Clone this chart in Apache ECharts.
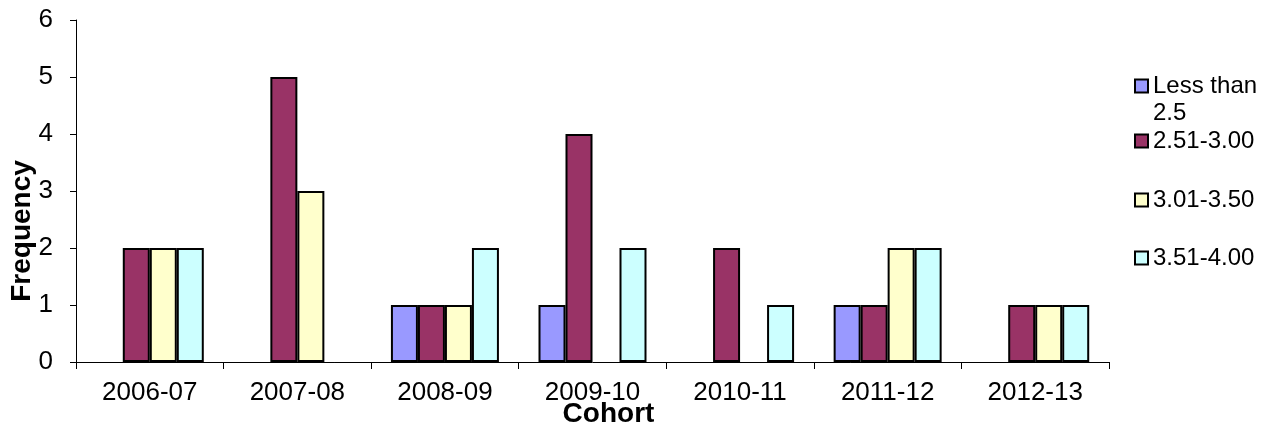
<!DOCTYPE html>
<html>
<head>
<meta charset="utf-8">
<script src="https://cdn.jsdelivr.net/npm/echarts@6/dist/echarts.min.js"></script>
<style>
  html, body { margin: 0; padding: 0; background: #fff; }
  #chart { width: 1276px; height: 431px; }
</style>
</head>
<body>
<div id="chart"></div>
<script>
var cohorts = ['2006-07', '2007-08', '2008-09', '2009-10', '2010-11', '2011-12', '2012-13']
var seriesNames = ['Less than 2.5', '2.51-3.00', '3.01-3.50', '3.51-4.00']
var lessThan25 = [0, 0, 1, 1, 0, 1, 0]
var gpa251to300 = [2, 5, 1, 4, 2, 1, 1]
var gpa301to350 = [2, 3, 1, 0, 0, 2, 1]
var gpa351to400 = [2, 0, 2, 2, 1, 2, 1]
var colors = ['#9999FF', '#993366', '#FFFFCC', '#CCFFFF']

var values = [lessThan25, gpa251to300, gpa301to350, gpa351to400]
var font = 'Liberation Sans, Arial, sans-serif'
// legend item centres (one legend per series so each can sit where Excel put it)
var legendCentres = [86, 141, 200, 258]

var myChart = echarts.init(document.getElementById('chart'))
var series = []
var legends = []
for (let i = 0; i < values.length; i++) {
  series.push({
    name: seriesNames[i],
    type: 'bar',
    // zero bars get no outline, like the original
    data: values[i].map(function (v) {
      return { value: v, itemStyle: { borderWidth: v === 0 ? 0 : 2 } }
    }),
    barWidth: 27,
    barGap: '0%',
    itemStyle: {
      color: colors[i],
      borderColor: '#000000',
      borderWidth: 2
    }
  })
  // first entry wraps; a blank first line keeps "Less than" level with its box
  let twoLine = i === 0
  let lh = twoLine ? 27 : 24
  legends.push({
    orient: 'vertical',
    left: 1134,
    top: legendCentres[i] - (twoLine ? lh * 1.5 : lh / 2),
    padding: 0,
    itemWidth: 13,
    itemHeight: 13,
    itemGap: 0,
    icon: 'rect',
    itemStyle: { borderColor: '#000', borderWidth: 2 },
    formatter: twoLine ? function () { return ' \nLess than\n2.5' } : '{name}',
    textStyle: {
      fontSize: 24,
      color: '#000',
      fontFamily: font,
      lineHeight: lh
    },
    data: [seriesNames[i]]
  })
}

var option = {
  animation: false,
  textStyle: { fontFamily: font },
  grid: {
    left: 76,
    right: 167,
    top: 20,
    bottom: 69,
    containLabel: false,
    outerBoundsMode: 'none'
  },
  legend: legends,
  xAxis: {
    type: 'category',
    data: cohorts,
    name: 'Cohort',
    nameLocation: 'middle',
    nameGap: 38,
    nameMoveOverlap: false,
    nameTextStyle: {
      fontSize: 28,
      fontWeight: 'bold',
      color: '#000',
      fontFamily: font,
      padding: [0, 0, 0, 32]
    },
    axisLine: { lineStyle: { color: '#000', width: 1 } },
    axisTick: { show: true, length: 7, lineStyle: { color: '#000' } },
    axisLabel: { fontSize: 26, color: '#000', margin: 18, fontFamily: font }
  },
  yAxis: {
    type: 'value',
    min: 0,
    max: 6,
    interval: 1,
    name: 'Frequency',
    nameLocation: 'middle',
    nameGap: 40,
    nameMoveOverlap: false,
    nameTextStyle: {
      fontSize: 28,
      fontWeight: 'bold',
      color: '#000',
      fontFamily: font,
      padding: [0, 80, 0, 0]
    },
    splitLine: { show: false },
    axisLine: { show: true, lineStyle: { color: '#000', width: 1 } },
    axisTick: { show: true, length: 6, lineStyle: { color: '#000' } },
    axisLabel: { fontSize: 26, color: '#000', margin: 23, fontFamily: font }
  },
  series: series
}
myChart.setOption(option)
</script>
</body>
</html>
